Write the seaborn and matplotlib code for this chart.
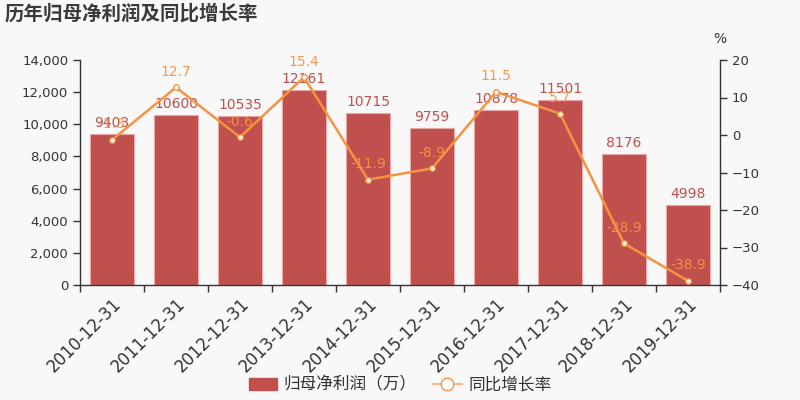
import matplotlib
matplotlib.use("Agg")
import matplotlib.pyplot as plt
import seaborn as sns
import numpy as np
import pandas as pd
from matplotlib.lines import Line2D
from matplotlib.patches import Patch
from matplotlib.ticker import FuncFormatter, FixedLocator

categories = ["2010-12-31", "2011-12-31", "2012-12-31", "2013-12-31", "2014-12-31",
              "2015-12-31", "2016-12-31", "2017-12-31", "2018-12-31", "2019-12-31"]
profit = [9403, 10600, 10535, 12161, 10715, 9759, 10878, 11501, 8176, 4998]
growth = [-1.3, 12.7, -0.6, 15.4, -11.9, -8.9, 11.5, 5.7, -28.9, -38.9]

bar_name = "归母净利润（万）"
line_name = "同比增长率"
title = "历年归母净利润及同比增长率"

sns.set_theme(style="white")
plt.rcParams['font.family'] = ['DejaVu Sans', 'Noto Sans CJK SC']

BG = "#f8f8f8"
BAR = "#c0504d"
LINE = "#f59342"
TXT = "#333333"
CJK = ['Noto Sans CJK SC', 'DejaVu Sans']

fig = plt.figure(figsize=(8, 4), dpi=100, facecolor=BG)
ax = fig.add_axes([0.10, 0.2875, 0.80, 0.5625])
ax.set_facecolor(BG)

df = pd.DataFrame({"cat": categories, "profit": profit, "growth": growth})
sns.barplot(data=df, x="cat", y="profit", ax=ax, color=BAR, saturation=1,
            width=0.69, edgecolor="#e8a8a8", linewidth=0.8)
ax.set_ylim(0, 14000)
ax.set_xlim(-0.5, len(categories) - 0.5)
ax.set_yticks(np.arange(0, 14001, 2000))
ax.yaxis.set_major_formatter(FuncFormatter(lambda v, p: f"{int(v):,}"))
ax.set_xlabel("")
ax.set_ylabel("")
for i, v in enumerate(profit):
    ax.text(i, v + 250, str(v), ha="center", va="bottom", color=BAR, fontsize=10)

ax2 = ax.twinx()
xs = np.arange(len(categories))
sns.lineplot(x=xs, y=growth, ax=ax2, color=LINE, linewidth=1.8, marker="o",
             markersize=4, markerfacecolor="white", markeredgecolor=LINE,
             markeredgewidth=1)
ax2.set_ylim(-40, 20)
ax2.set_yticks(np.arange(-40, 21, 10))
for i, v in enumerate(growth):
    ax2.text(i, v + 2.3, f"{v}", ha="center", va="bottom", color=LINE, fontsize=10, alpha=0.95)

ax.set_xticks(xs)
ax.set_xticklabels(categories, rotation=45, ha="right", rotation_mode="anchor",
                   fontsize=12, color=TXT)
ax.tick_params(axis="x", length=0, pad=7)
ax.xaxis.set_minor_locator(FixedLocator(np.arange(-0.5, len(categories), 1.0)))
ax.tick_params(axis="x", which="minor", length=5, width=1, color=TXT, direction="out", bottom=True)
ax.tick_params(axis="y", length=5, width=1, color=TXT, labelsize=9.5, labelcolor=TXT, left=True, direction="out")
ax2.tick_params(axis="y", length=5, width=1, color=TXT, labelsize=9.5, labelcolor=TXT, right=True, direction="out")

for a in (ax, ax2):
    a.spines["top"].set_visible(False)
    for s in ("left", "right", "bottom"):
        a.spines[s].set_color(TXT)
        a.spines[s].set_linewidth(1)
ax.spines["right"].set_visible(False)
ax2.spines["left"].set_visible(False)
ax2.spines["bottom"].set_visible(False)
ax2.set_ylabel("")

fig.text(0.90, 0.902, "%", ha="center", va="center", fontsize=10, color=TXT)
fig.text(0.006, 0.965, title, ha="left", va="center", fontsize=14,
         fontweight="bold", color="#3a3a3a", family=CJK)

handles = [Patch(facecolor=BAR, edgecolor=BAR, label=bar_name),
           Line2D([0], [0], color="#f8b88a", linewidth=1.5, marker="o", markersize=9,
                  markerfacecolor="white", markeredgecolor=LINE, label=line_name)]
fig.legend(handles=handles, loc="center", bbox_to_anchor=(0.5, 0.037), ncol=2,
           frameon=False, handlelength=1.7, columnspacing=1.0,
           handletextpad=0.4, labelcolor=TXT, prop={"family": CJK, "size": 12})

fig.savefig("out.png", dpi=100, facecolor=BG)
